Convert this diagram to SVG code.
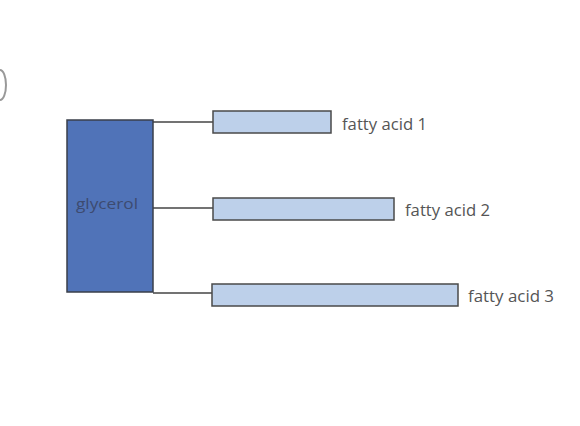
<svg xmlns="http://www.w3.org/2000/svg" width="580" height="426" viewBox="0 0 580 426">
<style>
.fa{fill:#bdd0ea;stroke:#4a4a4a;stroke-width:1.5}
.lbl{font-family:"Open Sans","Liberation Sans",sans-serif;font-size:15.5px;fill:#555}
.conn{stroke:#444;stroke-width:1.3;fill:none}
</style>
<rect width="580" height="426" fill="#fff"/>
<path d="M0,70 A6,15 0 0 1 0,100" fill="none" stroke="#999" stroke-width="2"/>
<g id="connectors">
<line class="conn" x1="153" y1="122" x2="213" y2="122"/>
<line class="conn" x1="153" y1="208" x2="213" y2="208"/>
<line class="conn" x1="153" y1="293" x2="212" y2="293"/>
</g>
<g id="glycerol">
<rect x="67" y="120" width="86" height="172" fill="#5073b8" stroke="#3a3f4a" stroke-width="1.5"/>
<text x="76" y="209" textLength="62" lengthAdjust="spacingAndGlyphs" font-family="'Open Sans','Liberation Sans',sans-serif" font-size="14" fill="#3d4b70">glycerol</text>
</g>
<g id="fa1">
<rect class="fa" x="213" y="111" width="118" height="22"/>
<text class="lbl" x="342" y="130" textLength="85" lengthAdjust="spacingAndGlyphs">fatty acid 1</text>
</g>
<g id="fa2">
<rect class="fa" x="213" y="198" width="181" height="22"/>
<text class="lbl" x="405" y="216" textLength="85" lengthAdjust="spacingAndGlyphs">fatty acid 2</text>
</g>
<g id="fa3">
<rect class="fa" x="212" y="284" width="246" height="22"/>
<text class="lbl" x="468" y="302" textLength="86" lengthAdjust="spacingAndGlyphs">fatty acid 3</text>
</g>
</svg>
